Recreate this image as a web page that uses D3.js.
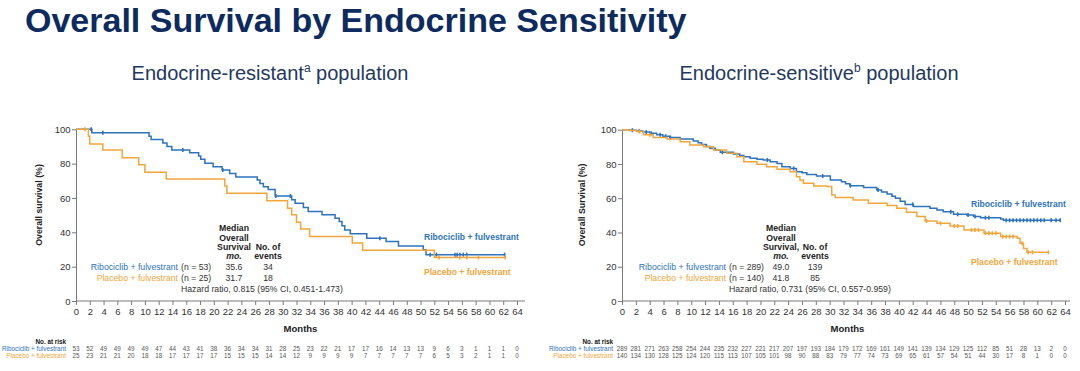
<!DOCTYPE html>
<html><head><meta charset="utf-8">
<script src="https://cdn.jsdelivr.net/npm/d3@7"></script>
<style>
html,body{margin:0;padding:0;background:#fff;}
svg{display:block;font-family:"Liberation Sans",Arial,sans-serif;}
</style></head>
<body>
<svg id="c" width="1080" height="371"></svg>
<script>
// ---------- DATA ----------
const xTicks = [0,2,4,6,8,10,12,14,16,18,20,22,24,26,28,30,32,34,36,38,40,42,44,46,48,50,52,54,56,58,60,62,64];
const yTicks = [0,20,40,60,80,100];

// Endocrine-resistant: KM steps [month, survival %]
const resRiboSteps = [[0,100],[2.3,98],[10.6,96],[10.9,94],[12.6,92],[13.2,90],[13.9,88],[16.5,86.4],[17.8,84.5],[18.1,82.5],[18.7,80.2],[19.9,78.2],[21.2,76.3],[22.3,74.3],[23.2,72.2],[26.3,70.4],[26.7,68.5],[27.2,66.6],[27.9,65],[28.9,61.2],[31.3,58.9],[31.8,56.9],[33.0,54.4],[33.7,52.1],[35.7,50.2],[37.6,48.2],[38.2,46.3],[38.6,43.8],[39.0,41.4],[39.8,39.2],[42.2,36.6],[45.0,34.7],[46.8,32.1],[50.4,29.8],[50.8,27.0]];
const resRiboEnd = 62.3;
const resRiboCensor = [2.2,3.9,15.5,21.3,29.0,31.1,44.1,51.4,52.3,55.0,55.3,55.7,56.2,56.7,62.2];
const resPlacSteps = [[0,100],[1.8,96],[2.0,91.5],[3.9,88],[6.7,83.5],[9.1,79.3],[10.0,75],[13.1,71],[21.6,67],[21.9,62.8],[27.7,58.4],[30.7,54],[31.3,50.2],[32.0,45.9],[32.6,41.9],[33.9,37.6],[40.1,33.8],[41.6,29.5],[52.0,25.4]];
const resPlacEnd = 62.3;
const resPlacCensor = [1.3,52.7,55.7,56.7,58.4,62.3];

// Endocrine-sensitive
const senRiboSteps = [[0,100],[1.0,99.7],[2.1,99.3],[3.0,98.6],[4.0,98.0],[5.0,97.0],[5.9,96.2],[6.9,95.4],[8.4,94.6],[10.3,93.4],[11.0,92.4],[11.5,91.4],[12.2,90.2],[12.7,89.1],[13.5,88.0],[14.2,86.8],[16.1,85.8],[17.0,85.0],[17.6,84.2],[18.5,83.4],[19.5,82.7],[20.4,82.3],[21.4,81.3],[22.4,80.3],[23.1,78.4],[24.3,77.4],[25.2,75.5],[26.0,74.8],[26.7,73.9],[28.1,72.9],[30.1,70.6],[31.7,69.6],[32.3,68.4],[32.9,67.3],[34.9,66.2],[36.8,64.8],[37.5,63.6],[38.3,62.4],[39.0,61.2],[39.5,60.0],[40.2,58.2],[40.9,56.4],[42.1,55.1],[44.5,54.1],[45.5,53.1],[46.4,52.1],[47.9,50.6],[49.8,50.2],[50.8,49.4],[51.8,48.6],[54.7,47.8],[55.1,47.1]];
const senRiboEnd = 63.3;
const senRiboCensor = [1.5,2.5,3.5,4.2,5.5,6.3,7.0,14.5,21.0,24.8,29.0,33.0,37.0,42.0,47.5,48.5,50.0,51.0,52.5,53.0,55.5,56.0,56.5,57.0,57.5,58.0,58.5,59.0,59.5,60.0,60.5,61.0,62.0,62.7,63.3];
const senPlacSteps = [[0,100],[1.0,99.5],[2.1,99.0],[3.1,97.0],[4.5,95.4],[6.5,94.6],[8.4,93.0],[9.8,91.0],[11.8,90.1],[13.2,88.1],[15.1,86.2],[16.6,84.2],[17.6,81.3],[19.5,79.9],[20.9,78.4],[22.4,76.9],[24.3,75.5],[25.2,72.6],[25.7,70.6],[26.2,68.7],[27.7,67.2],[29.6,66.8],[30.3,61.9],[30.8,60.4],[33.4,59.0],[35.6,57.1],[38.3,55.7],[39.7,54.1],[41.1,51.8],[42.6,49.3],[43.8,46.7],[45.5,45.4],[47.4,43.8],[49.4,41.5],[52.3,39.6],[54.7,37.6],[57.1,36.6],[57.5,33.7],[58.0,30.7],[58.5,28.4]];
const senPlacEnd = 61.6;
const senPlacCensor = [2.5,4.0,44.0,46.0,48.0,48.5,50.5,51.0,51.5,52.5,53.0,53.5,54.0,55.0,55.5,56.0,56.5,57.8,58.7,59.3,61.6];

// Numbers at risk
const resRiboRisk = [53,52,49,49,49,49,47,44,43,41,38,36,34,34,31,28,25,23,22,21,17,17,16,14,13,13,9,6,3,1,1,1,0];
const resPlacRisk = [25,23,21,21,20,18,18,17,17,17,17,15,15,15,14,14,12,9,9,9,9,7,7,7,7,7,6,5,3,2,1,1,0];
const senRiboRisk = [289,281,271,263,258,254,244,235,232,227,221,217,207,197,193,184,179,172,169,161,149,141,139,134,129,125,112,85,51,28,13,2,0];
const senPlacRisk = [140,134,130,128,125,124,120,115,113,107,105,101,98,90,88,83,79,77,74,73,69,65,61,57,54,51,44,30,17,8,1,0,0];

// Texts
const title = "Overall Survival by Endocrine Sensitivity";
const armNames = ["Ribociclib + fulvestrant","Placebo + fulvestrant"];
const resStats = {n:["(n = 53)","(n = 25)"], median:["35.6","31.7"], events:["34","18"], hr:"Hazard ratio, 0.815 (95% CI, 0.451-1.473)"};
const senStats = {n:["(n = 289)","(n = 140)"], median:["49.0","41.8"], events:["139","85"], hr:"Hazard ratio, 0.731 (95% CI, 0.557-0.959)"};

// ---------- STYLE ----------
const BLUE = "#2e73be", ORANGE = "#f2a63a", NAVY = "#0d2b5e", SUB = "#1f3860", AX = "#7a7a7a", TXT = "#333";

const svg = d3.select("#c");

svg.append("text").attr("x",25).attr("y",32).attr("font-size",34).attr("font-weight","bold")
  .attr("fill",NAVY).text(title);

function panel(o){
  const g = svg.append("g");
  const x = d3.scaleLinear().domain([0,64]).range(o.xr);
  const y = d3.scaleLinear().domain([0,100]).range(o.yr);

  // subtitle
  const st = g.append("text").attr("x",o.subX).attr("y",80).attr("font-size",20).attr("fill",SUB).attr("text-anchor","middle");
  st.append("tspan").text(o.sub1);
  st.append("tspan").attr("font-size",12).attr("dy",-8).text(o.sup);
  st.append("tspan").attr("dy",8).text(" population");

  // axes
  const xa = g.append("g").attr("transform",`translate(0,${o.yr[0]})`)
    .call(d3.axisBottom(x).tickValues(xTicks).tickSize(4).tickSizeOuter(0).tickFormat(d3.format("d")));
  xa.select(".domain").remove();
  xa.append("line").attr("x1",o.xr[0]).attr("x2",o.axEnd).attr("stroke",AX);
  const ya = g.append("g").attr("transform",`translate(${o.xr[0]},0)`)
    .call(d3.axisLeft(y).tickValues(yTicks).tickSize(4).tickSizeOuter(0));
  [xa,ya].forEach(a=>{
    a.selectAll(".tick line").attr("stroke",AX);
    a.selectAll(".domain").attr("stroke",AX);
    a.selectAll(".tick text").attr("fill",TXT).attr("font-size",9.5).attr("font-family","Liberation Sans, Arial, sans-serif");
  });
  ya.selectAll(".tick text").attr("x",-5.5);
  xa.selectAll(".tick text").attr("y",7);

  g.append("text").attr("transform",`translate(${o.yLabX},205) rotate(-90)`).attr("text-anchor","middle")
    .attr("font-size",8.8).attr("font-weight","bold").attr("fill","#222").text(o.yLab);
  g.append("text").attr("x",(o.xr[0]+o.xr[1])/2+4).attr("y",332).attr("text-anchor","middle")
    .attr("font-size",9.5).attr("font-weight","bold").attr("fill","#222").text("Months");

  // curves
  const line = d3.line().x(d=>x(d[0])).y(d=>y(d[1])).curve(d3.curveStepAfter);
  function stepAt(steps,t){let v=steps[0][1];for(const s of steps){if(s[0]<=t)v=s[1];}return v;}
  o.series.forEach(s=>{
    const pts = s.steps.concat([[s.end, s.steps[s.steps.length-1][1]]]);
    g.append("path").datum(pts).attr("d",line).attr("fill","none").attr("stroke",s.color).attr("stroke-width",1.5);
    g.selectAll(null).data(s.censor).enter().append("line")
      .attr("x1",d=>x(d)).attr("x2",d=>x(d))
      .attr("y1",d=>y(stepAt(s.steps,d))-2).attr("y2",d=>y(stepAt(s.steps,d))+2)
      .attr("stroke",s.color).attr("stroke-width",1.6);
  });

  // legend labels
  o.legends.forEach(l=>{
    g.append("text").attr("x",l.x).attr("y",l.y).attr("font-size",8.6).attr("font-weight","bold").attr("fill",l.color).text(l.t);
  });

  // stats table
  const t = o.table;
  const hdr = [["Median",228],["Overall",237.5],[o.survWord,246.5]];
  hdr.forEach(h=>g.append("text").attr("x",t.medX).attr("y",h[1]+3).attr("text-anchor","middle")
    .attr("font-size",8.7).attr("font-weight","bold").attr("fill","#222").text(h[0]));
  g.append("text").attr("x",t.medX).attr("y",255.5+3).attr("text-anchor","middle").attr("font-size",8.7)
    .attr("font-weight","bold").attr("font-style","italic").attr("fill","#222").text("mo.");
  g.append("text").attr("x",t.evX).attr("y",246.5+3).attr("text-anchor","middle").attr("font-size",8.7).attr("font-weight","bold").attr("fill","#222").text("No. of");
  g.append("text").attr("x",t.evX).attr("y",255.5+3).attr("text-anchor","middle").attr("font-size",8.7).attr("font-weight","bold").attr("fill","#222").text("events");
  [267,278].forEach((yy,i)=>{
    g.append("text").attr("x",t.lblR).attr("y",yy+3).attr("text-anchor","end").attr("font-size",8.7)
      .attr("fill",i===0?BLUE:ORANGE).text(armNames[i]);
    g.append("text").attr("x",t.lblR+3).attr("y",yy+3).attr("font-size",8.7).attr("fill",TXT).text(o.stats.n[i]);
    g.append("text").attr("x",t.medX).attr("y",yy+3).attr("text-anchor","middle").attr("font-size",8.7).attr("fill",TXT).text(o.stats.median[i]);
    g.append("text").attr("x",t.evX).attr("y",yy+3).attr("text-anchor","middle").attr("font-size",8.7).attr("fill",TXT).text(o.stats.events[i]);
  });
  g.append("text").attr("x",t.lblR+3).attr("y",289+3).attr("font-size",8.7).attr("fill",TXT).text(o.stats.hr);

  // number at risk
  g.append("text").attr("x",o.riskLblR).attr("y",344).attr("text-anchor","end").attr("font-size",6.3).attr("font-weight","bold").attr("fill","#111").text("No. at risk");
  [[o.risk[0],351,BLUE],[o.risk[1],358,ORANGE]].forEach((r,i)=>{
    g.append("text").attr("x",o.riskLblR).attr("y",r[1]).attr("text-anchor","end").attr("font-size",6.4).attr("fill",r[2]).text(armNames[i]);
    g.selectAll(null).data(r[0]).enter().append("text")
      .attr("x",(d,j)=>x(xTicks[j])).attr("y",r[1]).attr("text-anchor","middle")
      .attr("font-size",6.3).attr("fill","#555").text(d=>d);
  });
}

panel({xr:[76,517], yr:[301,129.3], axEnd:525, subX:270, sub1:"Endocrine-resistant", sup:"a",
  yLab:"Overall survival (%)", yLabX:42, survWord:"Survival",
  series:[{steps:resRiboSteps,end:resRiboEnd,censor:resRiboCensor,color:BLUE},
          {steps:resPlacSteps,end:resPlacEnd,censor:resPlacCensor,color:ORANGE}],
  legends:[{x:424,y:239.5,t:armNames[0],color:BLUE},{x:424,y:274.5,t:armNames[1],color:ORANGE}],
  table:{medX:234,evX:268,lblR:178}, stats:resStats, riskLblR:66, risk:[resRiboRisk,resPlacRisk]});

panel({xr:[622,1065], yr:[301,129.7], axEnd:1070, subX:819, sub1:"Endocrine-sensitive", sup:"b",
  yLab:"Overall Survival (%)", yLabX:585, survWord:"Survival,",
  series:[{steps:senRiboSteps,end:senRiboEnd,censor:senRiboCensor,color:BLUE},
          {steps:senPlacSteps,end:senPlacEnd,censor:senPlacCensor,color:ORANGE}],
  legends:[{x:971,y:207,t:armNames[0],color:BLUE},{x:971,y:265,t:armNames[1],color:ORANGE}],
  table:{medX:781,evX:815,lblR:726}, stats:senStats, riskLblR:613, risk:[senRiboRisk,senPlacRisk]});
</script>
</body></html>
